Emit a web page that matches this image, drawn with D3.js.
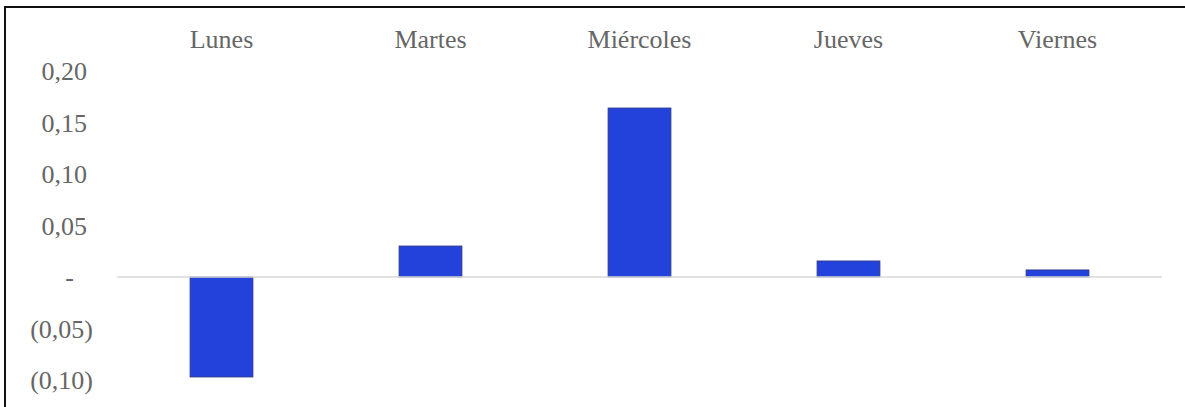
<!DOCTYPE html>
<html>
<head>
<meta charset="utf-8">
<script src="https://cdn.jsdelivr.net/npm/d3@7"></script>
<style>
  html, body { margin: 0; background: #fff; overflow: hidden; }
  svg { display: block; }
  text { font-family: "Liberation Serif", "Times New Roman", serif; }
</style>
</head>
<body>
<div id="my_dataviz"></div>
<script>
// data
var dias = ["Lunes", "Martes", "Miércoles", "Jueves", "Viernes"];
var valores = [-0.097, 0.030, 0.164, 0.0155, 0.0068];
var ticks = [0.20, 0.15, 0.10, 0.05, 0, -0.05, -0.10];

var width = 1185, height = 407;

var svg = d3.select("#my_dataviz")
  .append("svg")
  .attr("width", width)
  .attr("height", height);

// frame (right and bottom edges sit outside the picture)
svg.append("rect")
  .attr("x", 5).attr("y", 7)
  .attr("width", 1250).attr("height", 450)
  .attr("fill", "none")
  .attr("stroke", "#111")
  .attr("stroke-width", 2);

var x = d3.scaleBand()
  .domain(dias)
  .range([117, 1162]);

var y = d3.scaleLinear()
  .domain([-0.10, 0.20])
  .range([380, 71]);

// y labels in accounting style
function fmt(v) {
  if (Math.abs(v) < 1e-9) return "-";
  var s = Math.abs(v).toFixed(2).replace(".", ",");
  return v < 0 ? "(" + s + ")" : s;
}

svg.append("g")
  .selectAll("text")
  .data(ticks)
  .enter()
  .append("text")
  .attr("x", function (d) {
    if (Math.abs(d) < 1e-9) return 74;
    return d < 0 ? 93 : 87;
  })
  .attr("y", function (d) { return y(d) + 9; })
  .attr("text-anchor", "end")
  .attr("font-size", 26)
  .attr("fill", "#666")
  .text(fmt);

// category labels on top
svg.append("g")
  .selectAll("text")
  .data(dias)
  .enter()
  .append("text")
  .attr("x", function (d) { return x(d) + x.bandwidth() / 2; })
  .attr("y", 48)
  .attr("text-anchor", "middle")
  .attr("font-size", 26)
  .attr("fill", "#666")
  .text(function (d) { return d; });

// bars
var bw = x.bandwidth() * 0.3;
svg.append("g")
  .selectAll("rect")
  .data(valores)
  .enter()
  .append("rect")
  .attr("x", function (d, i) { return x(dias[i]) + x.bandwidth() / 2 - bw / 2; })
  .attr("y", function (d) { return Math.min(y(d), y(0)); })
  .attr("width", bw)
  .attr("height", function (d) { return Math.abs(y(d) - y(0)); })
  .attr("fill", "#2341DB")
  .attr("stroke", "#2a3890")
  .attr("stroke-width", 1);

// zero line
svg.append("line")
  .attr("x1", 117).attr("x2", 1162)
  .attr("y1", y(0)).attr("y2", y(0))
  .attr("stroke", "#d9d9d9")
  .attr("stroke-width", 1.5);
</script>
</body>
</html>
